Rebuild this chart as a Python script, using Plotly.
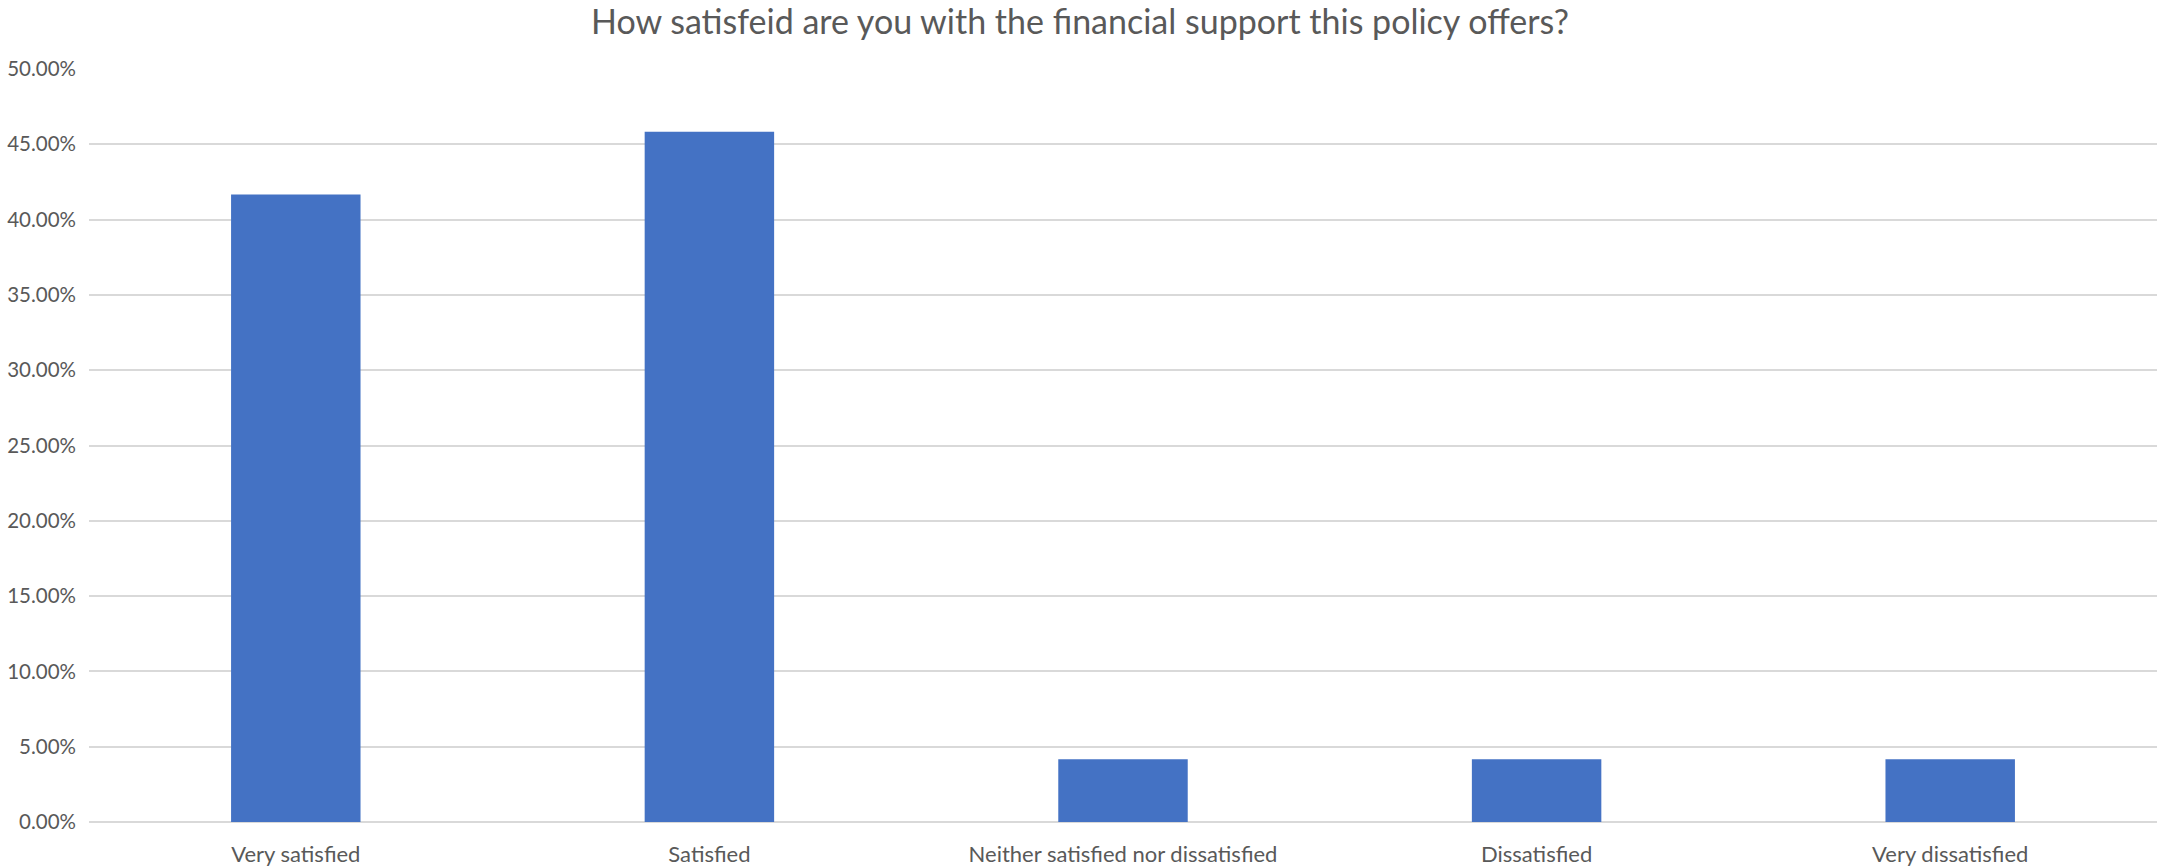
import plotly.graph_objects as go

# Survey responses: share of respondents per satisfaction level
categories = [
    "Very satisfied",
    "Satisfied",
    "Neither satisfied nor dissatisfied",
    "Dissatisfied",
    "Very dissatisfied",
]
shares = [0.4167, 0.4583, 0.0417, 0.0417, 0.0417]

title_text = "How satisfeid are you with the financial support this policy offers?"

TEXT = "#595959"
GRID = "#d9d9d9"
BAR = "#4472c4"
FONT = "Lato, Carlito, Calibri, sans-serif"

fig = go.Figure(
    go.Bar(
        x=categories,
        y=shares,
        marker=dict(color=BAR, line=dict(width=0)),
        hovertemplate="%{x}: %{y:.2%}<extra></extra>",
    )
)

fig.update_layout(
    width=2160,
    height=867,
    paper_bgcolor="white",
    plot_bgcolor="white",
    margin=dict(l=89, r=3, t=69, b=45, pad=0, autoexpand=False),
    bargap=0.687,
    showlegend=False,
    font=dict(family=FONT, color=TEXT, size=22),
    title=dict(
        text=title_text,
        x=0.5,
        xanchor="center",
        y=0.988,
        yanchor="top",
        font=dict(family=FONT, size=34, color=TEXT),
    ),
)

fig.update_xaxes(
    automargin=False,
    showgrid=False,
    showline=False,
    zeroline=False,
    ticks="",
    tickfont=dict(family=FONT, size=22, color=TEXT),
    ticklabelstandoff=17,
)

fig.update_yaxes(
    automargin=False,
    range=[0, 0.5],
    dtick=0.05,
    tick0=0,
    tickformat=".2%",
    showgrid=True,
    gridcolor=GRID,
    gridwidth=2,
    zeroline=True,
    zerolinecolor=GRID,
    zerolinewidth=2,
    showline=False,
    ticks="",
    tickfont=dict(family=FONT, size=20.5, color=TEXT),
    ticklabelstandoff=12,
)

fig.write_html("out.html")
